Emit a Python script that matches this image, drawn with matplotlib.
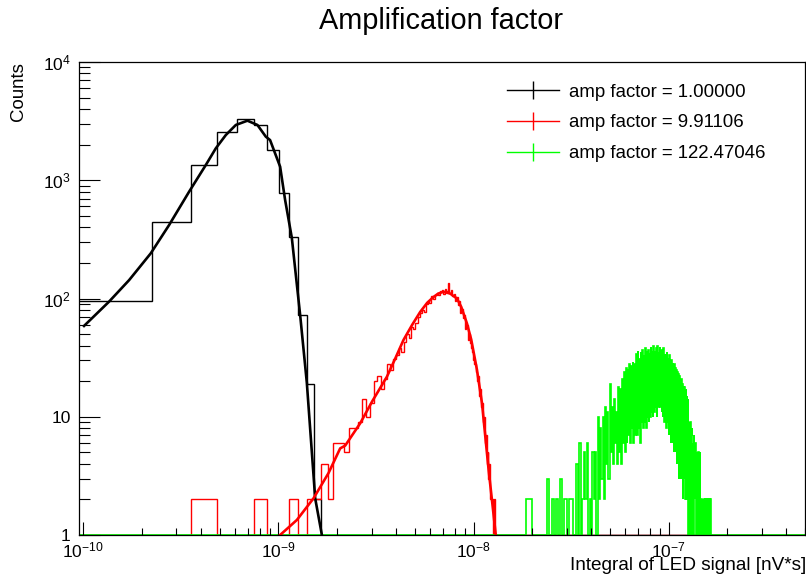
import numpy as np
import matplotlib
matplotlib.use("Agg")
import matplotlib.pyplot as plt
from matplotlib.lines import Line2D
from matplotlib.ticker import FixedLocator, LogLocator, NullFormatter

plt.rcParams['font.family'] = ['Liberation Sans', 'DejaVu Sans']
plt.rcParams['mathtext.fontset'] = 'custom'
plt.rcParams['mathtext.rm'] = 'Liberation Sans'
plt.rcParams['mathtext.it'] = 'Liberation Sans:italic'
plt.rcParams['mathtext.bf'] = 'Liberation Sans:bold'

# common binning of the histograms (nV*s)
bin_start = 0.95e-10
bin_width = 1.3e-10
x_min, x_max = 0.95e-10, 5.0e-7

# amp factor = 1 (bins from bin_start)
black_counts = [95, 447, 1340, 2580, 3290, 2925, 1795, 780, 330, 73, 19, 2]

# amp factor = 9.9 (first bin index 2)
red_first_bin = 2
red_counts = [2, 0, 0, 2, 0, 0, 2, 0, 2, 2,
              4, 2, 6, 6, 5, 8, 8, 9, 14, 10,
              13, 20, 22, 17, 21, 28, 25, 31, 33, 38,
              35, 43, 50, 46, 57, 55, 62, 70, 75, 80,
              77, 90, 95, 92, 105, 100, 107, 112, 108, 115,
              118, 110, 120, 116, 134, 112, 118, 104, 110, 96,
              103, 88, 95, 76, 82, 68, 72, 55, 60, 45,
              50, 42, 38, 35, 30, 28, 24, 20, 22, 15,
              17, 12, 13, 9, 10, 6, 7, 4, 5, 3,
              4, 2, 2, 2, 1, 2, 1, 1, 0]

# amp factor = 122 (bins of 5 base bins)
green_start = 1.6e-8
green_width = 6.5e-10
green_counts = [0, 0, 0, 0, 2, 2, 0, 0, 0, 0,
                0, 0, 3, 0, 2, 1, 2, 0, 3, 1,
                2, 2, 1, 2, 2, 1, 0, 4, 1, 6,
                1, 2, 5, 2, 6, 1, 2, 1, 5, 2,
                5, 1, 10, 2, 8, 3, 10, 2, 12, 4,
                11, 3, 19, 5, 12, 4, 14, 6, 11, 4,
                18, 5, 17, 4, 21, 6, 24, 5, 26, 6,
                25, 7, 28, 6, 27, 8, 29, 6, 28, 7,
                34, 7, 36, 8, 31, 6, 35, 9, 37, 8,
                33, 9, 38, 8, 36, 10, 37, 9, 34, 10,
                39, 11, 35, 10, 40, 11, 36, 12, 38, 10,
                40, 12, 35, 13, 39, 12, 37, 11, 36, 10,
                38, 9, 34, 10, 33, 8, 35, 9, 31, 7,
                33, 8, 29, 6, 30, 7, 28, 6, 27, 5,
                28, 5, 26, 6, 25, 4, 24, 4, 23, 3,
                22, 3, 20, 4, 21, 3, 19, 2, 18, 3,
                18, 2, 16, 2, 17, 2, 15, 2, 14, 1,
                9, 2, 8, 1, 9, 1, 7, 2, 8, 1,
                6, 1, 7, 1, 5, 2, 6, 1, 5, 1,
                5, 0, 4, 1, 5, 1, 3, 0, 5, 1,
                2, 0, 2, 1, 0, 2, 0, 0, 2, 0,
                2, 1, 0, 2, 0, 0, 2, 0, 2, 0,
                0, 2, 0, 0, 2, 0, 0, 2, 0, 0,
                0, 0]

# fitted curves
black_fit_x = [1.008e-10, 1.354e-10, 1.716e-10, 2.216e-10, 2.751e-10, 3.484e-10,
               4.244e-10, 4.775e-10, 5.375e-10, 6.047e-10, 6.934e-10, 7.803e-10,
               8.618e-10, 9.06e-10, 1.02e-9, 1.082e-9, 1.171e-9, 1.292e-9,
               1.398e-9, 1.543e-9, 1.67e-9]
black_fit_y = [58.6, 94, 143, 241, 418, 800,
               1346, 1862, 2414, 2934, 3190, 2934,
               2335, 2187, 1303, 681, 326, 72.5,
               19.4, 2.04, 1.0]
red_fit_x = [1.02e-9, 1.243e-9, 1.512e-9, 1.804e-9, 2.072e-9, 2.198e-9, 2.624e-9,
             3.024e-9, 3.597e-9, 3.967e-9, 4.375e-9, 4.85e-9, 5.33e-9, 5.788e-9,
             6.236e-9, 6.592e-9, 7.02e-9, 7.595e-9, 8.22e-9, 8.647e-9, 9.25e-9,
             9.73e-9, 1.041e-8, 1.105e-8, 1.196e-8, 1.266e-8, 1.3e-8]
red_fit_y = [1.0, 1.34, 2.04, 3.33, 5.4, 5.7, 8.8,
             13.5, 21.8, 31, 44.6, 60, 77, 92,
             103, 110, 114, 110, 100, 85, 61.6,
             45, 25, 13, 3.5, 1.5, 1.0]

labels = ['amp factor = 1.00000', 'amp factor = 9.91106', 'amp factor = 122.47046']
colors = ['#000000', '#ff0000', '#00ff00']

x_ticks = [1e-10, 1e-9, 1e-8, 1e-7]
x_tick_labels = ['$10^{-10}$', '$10^{-9}$', '$10^{-8}$', '$10^{-7}$']
y_ticks = [1, 10, 100, 1000, 10000]
y_tick_labels = ['1', '10', '$10^{2}$', '$10^{3}$', '$10^{4}$']


def draw_hist(ax, counts, first_edge, width, color, lw=1.0):
    edges = first_edge + width * np.arange(len(counts) + 1)
    vals = np.maximum(np.array(counts, dtype=float), 1.0)
    if edges[0] > x_min:
        edges = np.concatenate([[x_min], edges])
        vals = np.concatenate([[1.0], vals])
    edges = np.concatenate([edges, [x_max]])
    vals = np.concatenate([vals, [1.0]])
    ax.stairs(vals, edges, color=color, lw=lw, baseline=None)


fig = plt.figure(figsize=(8.06, 5.75), dpi=100)
ax = fig.add_axes([79 / 806, 40 / 575, 726 / 806, 473 / 575])

draw_hist(ax, black_counts, bin_start, bin_width, colors[0])
ax.plot(black_fit_x, black_fit_y, color=colors[0], lw=1.9)
draw_hist(ax, red_counts, bin_start + red_first_bin * bin_width, bin_width, colors[1])
ax.plot(red_fit_x, red_fit_y, color=colors[1], lw=1.9)
draw_hist(ax, green_counts, green_start, green_width, colors[2], lw=1.2)

ax.set_xscale('log')
ax.set_yscale('log')
ax.set_xlim(x_min, x_max)
ax.set_ylim(1, 1e4)

ax.xaxis.set_major_locator(FixedLocator(x_ticks))
ax.set_xticklabels(x_tick_labels)
ax.xaxis.set_minor_locator(LogLocator(base=10, subs=range(2, 10), numticks=50))
ax.xaxis.set_minor_formatter(NullFormatter())
ax.yaxis.set_major_locator(FixedLocator(y_ticks))
ax.set_yticklabels(y_tick_labels)
ax.yaxis.set_minor_locator(LogLocator(base=10, subs=range(2, 10), numticks=50))
ax.yaxis.set_minor_formatter(NullFormatter())

ax.tick_params(which='both', direction='in', top=False, right=False, width=0.8)
ax.tick_params(axis='x', which='major', length=9.5, labelsize=12.5, pad=4)
ax.tick_params(axis='x', which='minor', length=5)
ax.tick_params(axis='y', which='major', length=15, labelsize=12.5, pad=6)
ax.tick_params(axis='y', which='minor', length=8)
for s in ax.spines.values():
    s.set_linewidth(0.9)

handles = [Line2D([], [], color=c, lw=1.0, marker='|', markersize=13,
                  markeredgewidth=1.0) for c in colors]
ax.legend(handles, labels, loc='upper left', bbox_to_anchor=(507 / 806, 1 - 83.5 / 575),
          bbox_transform=fig.transFigure, frameon=False, fontsize=13.4,
          handlelength=2.8, handletextpad=0.55, labelspacing=0.74,
          borderpad=0, borderaxespad=0)

fig.text(441 / 806, 1 - 29 / 575, 'Amplification factor', ha='center', va='baseline',
         fontsize=20.8)
fig.text(806 / 806, 1 - 570 / 575, 'Integral of LED signal [nV*s]', ha='right',
         va='baseline', fontsize=13.7)
fig.text(18.5 / 806, 1 - 62 / 575, 'Counts', rotation=90, ha='center', va='top',
         fontsize=13.4)

fig.savefig('out.png', dpi=100)
